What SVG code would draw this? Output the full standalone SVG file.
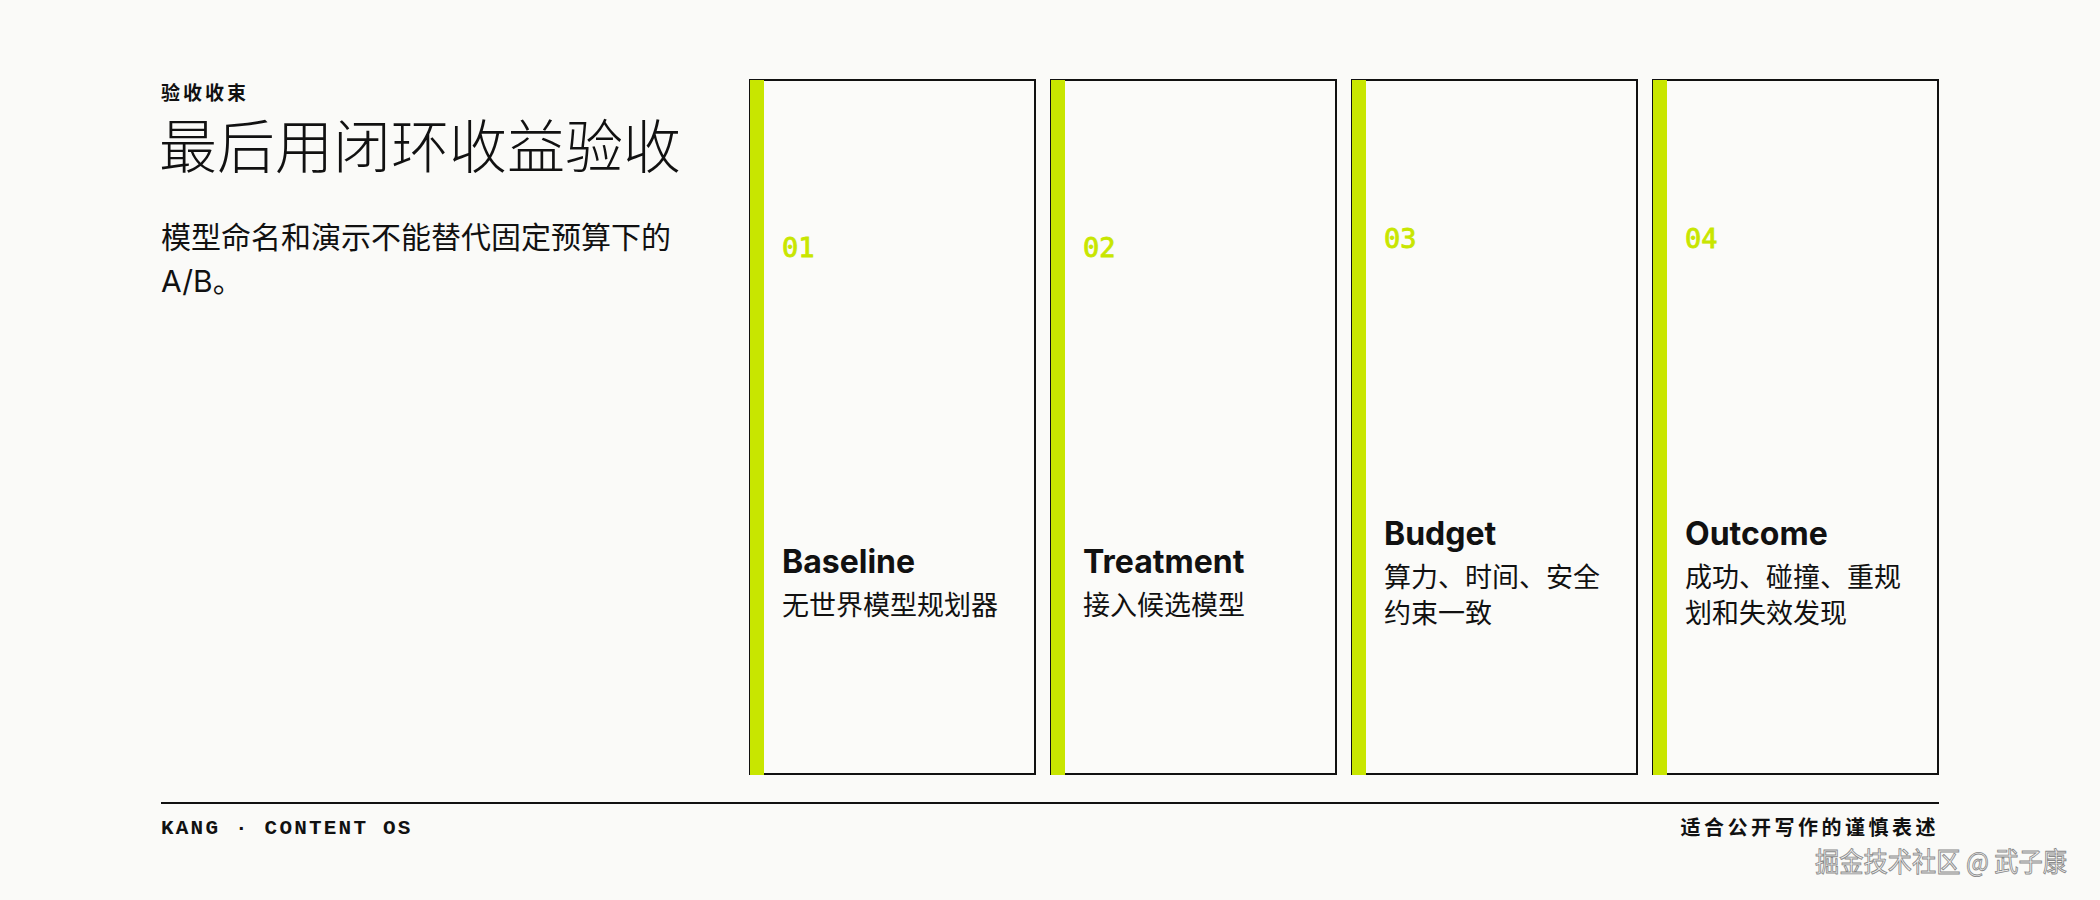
<svg xmlns="http://www.w3.org/2000/svg" width="2100" height="900" viewBox="0 0 2100 900">
<style>
.eyebrow{font-family:"Noto Sans CJK SC","Noto Sans",sans-serif;font-size:19px;font-weight:700;letter-spacing:3px;fill:#111}
.title{font-family:"Noto Sans CJK SC",sans-serif;font-size:58px;font-weight:300;fill:#111}
.sub{font-family:"Inter","Noto Sans CJK SC",sans-serif;font-size:30px;font-weight:400;fill:#111}
.card{fill:#fbfbf9;stroke:#111;stroke-width:2}
.bar{fill:#c8e600}
.num{font-family:"DejaVu Sans Mono",monospace;font-size:27px;font-weight:400;fill:#c8e600;stroke:#c8e600;stroke-width:0.9}
.ct{font-family:"Inter","Noto Sans",sans-serif;font-size:32px;font-weight:700;fill:#111}
.cd{font-family:"Noto Sans CJK SC",sans-serif;font-size:27px;font-weight:400;fill:#111}
.foot{font-family:"Liberation Mono",monospace;font-size:21px;font-weight:700;letter-spacing:2.2px;fill:#111}
.footr{font-family:"Noto Sans CJK SC",sans-serif;font-size:20px;font-weight:700;letter-spacing:3.5px;fill:#111}
.wm{font-family:"Noto Sans CJK SC",sans-serif;font-size:27px;font-weight:400;fill:#f2f2f2;stroke:#8a8a8a;stroke-width:0.9}
</style>
<rect width="2100" height="900" fill="#fafaf8"/>
<g id="header">
<text class="eyebrow" x="161" y="100">验收收束</text>
<text class="title" x="159" y="168">最后用闭环收益验收</text>
<text class="sub" x="161" y="248">模型命名和演示不能替代固定预算下的</text>
<text class="sub" x="161" y="292">A/B。</text>
</g>
<g id="card1">
<rect class="card" x="750" y="80" width="285" height="694"/>
<rect class="bar" x="750" y="80" width="14" height="695"/>
<text class="num" x="782" y="257">01</text>
<text class="ct" x="782" y="573">Baseline</text>
<text class="cd" x="782" y="615">无世界模型规划器</text>
</g>
<g id="card2">
<rect class="card" x="1051" y="80" width="285" height="694"/>
<rect class="bar" x="1051" y="80" width="14" height="695"/>
<text class="num" x="1083" y="257">02</text>
<text class="ct" x="1083" y="573">Treatment</text>
<text class="cd" x="1083" y="615">接入候选模型</text>
</g>
<g id="card3">
<rect class="card" x="1352" y="80" width="285" height="694"/>
<rect class="bar" x="1352" y="80" width="14" height="695"/>
<text class="num" x="1384" y="248">03</text>
<text class="ct" x="1384" y="545">Budget</text>
<text class="cd" x="1384" y="587">算力、时间、安全</text>
<text class="cd" x="1384" y="623">约束一致</text>
</g>
<g id="card4">
<rect class="card" x="1653" y="80" width="285" height="694"/>
<rect class="bar" x="1653" y="80" width="14" height="695"/>
<text class="num" x="1685" y="248">04</text>
<text class="ct" x="1685" y="545">Outcome</text>
<text class="cd" x="1685" y="587">成功、碰撞、重规</text>
<text class="cd" x="1685" y="623">划和失效发现</text>
</g>
<g id="connectors"></g>
<g id="footer">
<line x1="161" y1="803" x2="1939" y2="803" stroke="#111" stroke-width="2"/>
<text class="foot" x="161" y="834">KANG · CONTENT OS</text>
<text class="footr" x="1939" y="835" text-anchor="end">适合公开写作的谨慎表述</text>
</g>
<text class="wm" x="1815" y="872" textLength="252" lengthAdjust="spacingAndGlyphs">掘金技术社区 @ 武子康</text>
</svg>
